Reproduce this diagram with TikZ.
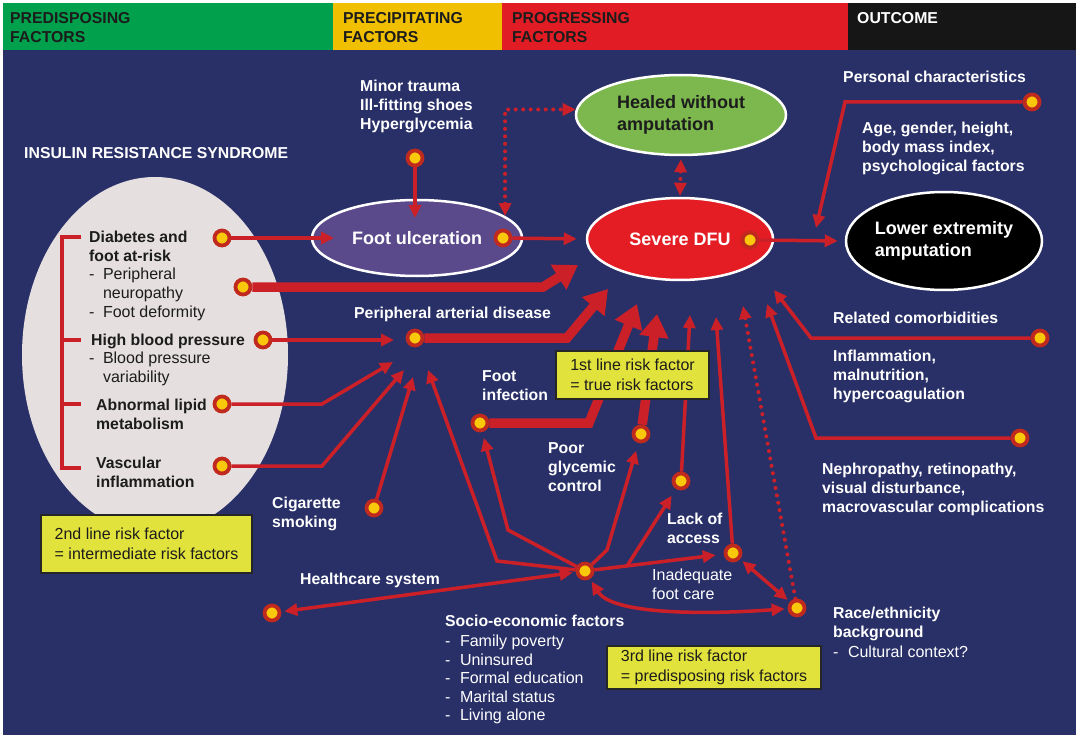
\documentclass[tikz,border=0pt]{standalone}
\usepackage{fontspec}
\setmainfont{Liberation Sans}
\usetikzlibrary{arrows.meta,shapes.geometric}

\definecolor{navy}{RGB}{41,48,104}
\definecolor{hdgreen}{RGB}{0,160,76}
\definecolor{hdyellow}{RGB}{240,192,0}
\definecolor{hdred}{RGB}{226,28,36}
\definecolor{hdblack}{RGB}{22,22,22}
\definecolor{linkred}{RGB}{204,32,40}
\definecolor{ringred}{RGB}{192,42,30}
\definecolor{dotyellow}{RGB}{250,200,10}
\definecolor{irsgrey}{RGB}{229,223,223}
\definecolor{ulcer}{RGB}{90,74,140}
\definecolor{healgreen}{RGB}{124,184,78}
\definecolor{sevred}{RGB}{228,28,36}
\definecolor{boxyellow}{RGB}{226,226,60}
\definecolor{inktext}{RGB}{28,28,28}

\begin{document}
\begin{tikzpicture}[x=1pt,y=-1pt,
  lbl/.style={inner sep=0pt, anchor=north west, align=left, text=white,
    font=\bfseries\fontsize{15.8}{19}\selectfont},
  plain/.style={lbl, font=\fontsize{16}{19}\selectfont},
  ink/.style={text=inktext},
  hdtext/.style={lbl, text=inktext},
  oval/.style={ellipse, draw=white, line width=2.5pt, inner sep=0pt, align=left,
    font=\bfseries\fontsize{18}{22.5}\selectfont},
  dot/.style={circle, fill=dotyellow, draw=ringred, line width=3.8pt,
    minimum size=15pt, inner sep=0pt},
  riskbox/.style={draw=black!85, line width=2pt, fill=boxyellow, text=inktext,
    align=left, inner sep=0pt, anchor=north west,
    font=\fontsize{16}{20}\selectfont},
  link/.style={draw=linkred, line width=3.5pt, -{Triangle[length=13pt,width=12pt]}},
  twoway/.style={link, {Triangle[length=13pt,width=12pt]}-{Triangle[length=13pt,width=12pt]}},
  bold link/.style={draw=linkred, line width=9.5pt, -{Triangle[length=23pt,width=28pt]}},
  dotted link/.style={draw=linkred, line width=4pt, line cap=round,
    dash pattern=on 0pt off 7.5pt, -{Triangle[length=13pt,width=12pt]}},
  dotted twoway/.style={dotted link, {Triangle[length=13pt,width=12pt]}-{Triangle[length=13pt,width=12pt]}},
]
\useasboundingbox (0,0) rectangle (1078,738);
\fill[white] (0,0) rectangle (1078,738);

% stage bands and canvas
\fill[navy] (3,50) rectangle (1076,735);
\fill[hdgreen] (3,3) rectangle (333,50);
\fill[hdyellow] (333,3) rectangle (502,50);
\fill[hdred] (502,3) rectangle (848,50);
\fill[hdblack] (848,3) rectangle (1076,50);
\node[hdtext] (hPre) at (10,12) {PREDISPOSING\\FACTORS};
\node[hdtext] (hPrec) at (343,12) {PRECIPITATING\\FACTORS};
\node[hdtext] (hProg) at (512,12) {PROGRESSING\\FACTORS};
\node[lbl] (hOut) at (857,12) {OUTCOME};

% insulin resistance syndrome group
\node[lbl] (irsTitle) at (24,147) {INSULIN RESISTANCE SYNDROME};
\node[ellipse, fill=irsgrey, minimum width=266, minimum height=356, inner sep=0pt] (irs) at (155,355) {};
\draw[linkred, line width=4pt] (81,237) -- (62,237) -- (62,468) -- (81,468);
\draw[linkred, line width=4pt] (62,340) -- (81,340) (62,404) -- (81,404);

\node[lbl, ink] (tDiab) at (89,231) {Diabetes and\\foot at-risk};
\node[plain, ink] (tDiabSub) at (89,268) {-\hspace{8.5pt}Peripheral\\\phantom{-}\hspace{8.5pt}neuropathy\\-\hspace{8.5pt}Foot deformity};
\node[lbl, ink] (tHBP) at (91,334) {High blood pressure};
\node[plain, ink] (tHBPSub) at (89,352) {-\hspace{8.5pt}Blood pressure\\\phantom{-}\hspace{8.5pt}variability};
\node[lbl, ink] (tLipid) at (96,399) {Abnormal lipid\\metabolism};
\node[lbl, ink] (tVasc) at (96,457) {Vascular\\inflammation};

% stages of the ulcer
\node[oval, fill=ulcer, text=white, minimum width=210, minimum height=76] (fu) at (417,238) {Foot ulceration};
\node[oval, fill=healgreen, text=inktext, minimum width=210, minimum height=80] (healed) at (681,115) {Healed without\\amputation};
\node[oval, fill=sevred, text=white, minimum width=186, minimum height=82] (sev) at (680,239) {Severe DFU};
\node[oval, fill=black, text=white, minimum width=196, minimum height=98] (lea) at (944,241) {Lower extremity\\amputation};

% labels
\node[lbl] (tTrauma) at (360,80) {Minor trauma\\Ill-fitting shoes\\Hyperglycemia};
\node[lbl] (tPers) at (843,71) {Personal characteristics};
\node[lbl] (tPersSub) at (862,122) {Age, gender, height,\\body mass index,\\psychological factors};
\node[lbl] (tPAD) at (354,307) {Peripheral arterial disease};
\node[lbl] (tCom) at (833,312) {Related comorbidities};
\node[lbl] (tComSub) at (833,350) {Inflammation,\\malnutrition,\\hypercoagulation};
\node[lbl] (tInf) at (482,370) {Foot\\infection};
\node[lbl] (tGly) at (548,442) {Poor\\glycemic\\control};
\node[lbl] (tNeph) at (822,463) {Nephropathy, retinopathy,\\visual disturbance,\\macrovascular complications};
\node[lbl] (tCig) at (272,497) {Cigarette\\smoking};
\node[lbl] (tLack) at (667,513) {Lack of\\access};
\node[lbl] (tHealth) at (300,573) {Healthcare system};
\node[plain] (tFoot) at (652,569) {Inadequate\\foot care};
\node[lbl] (tSocio) at (445,615) {Socio-economic factors};
\node[plain, font=\fontsize{16}{18.5}\selectfont] (tSocioSub) at (445,635)
  {-\hspace{9.5pt}Family poverty\\-\hspace{9.5pt}Uninsured\\-\hspace{9.5pt}Formal education\\-\hspace{9.5pt}Marital status\\-\hspace{9.5pt}Living alone};
\node[lbl] (tRace) at (833,607) {Race/ethnicity\\background};
\node[plain] (tRaceSub) at (833,646) {-\hspace{9.5pt}Cultural context?};

% factor dots
\node[dot] (dDiab) at (222,238) {};
\node[dot] (dNeuro) at (243,287) {};
\node[dot] (dHBP) at (263,340) {};
\node[dot] (dLipid) at (222,404) {};
\node[dot] (dVasc) at (222,466) {};
\node[dot] (dCig) at (374,508) {};
\node[dot] (dPAD) at (415,338) {};
\node[dot] (dTrauma) at (415,158) {};
\node[dot] (dFU) at (503,238) {};
\node[dot] (dSev) at (750,240) {};
\node[dot] (dPers) at (1032,102) {};
\node[dot] (dCom) at (1040,338) {};
\node[dot] (dNeph) at (1020,438) {};
\node[dot] (dInf) at (480,423) {};
\node[dot] (dGly) at (641,434) {};
\node[dot] (dLack) at (681,481) {};
\node[dot] (dFoot) at (733,553) {};
\node[dot] (dRace) at (797,608) {};
\node[dot] (dSocio) at (585,571) {};
\node[dot] (dHealth) at (272,613) {};

% bends and free arrow ends
\coordinate (tipFU) at (334,238);
\coordinate (kNeuro) at (543,287);
\coordinate (tipNeuro) at (578,265);
\coordinate (tipHBP) at (394,340);
\coordinate (kLipid) at (322,404);
\coordinate (tipLipid) at (393,362);
\coordinate (kVasc) at (322,466);
\coordinate (tipVasc) at (404,370);
\coordinate (tipCig) at (413,377);
\coordinate (kPAD) at (567,338);
\coordinate (tipPAD) at (608,289);
\coordinate (tipTrauma) at (415,218);
\coordinate (kPers) at (845,102);
\coordinate (tipPers) at (816,228);
\coordinate (kCom) at (811,338);
\coordinate (tipCom) at (774,290);
\coordinate (kNeph) at (816,438);
\coordinate (tipNeph) at (767,304);
\coordinate (kInf) at (589,423);
\coordinate (tipInf) at (637,304);
\coordinate (tipGly) at (657,314);
\coordinate (tipLack) at (690,315);
\coordinate (tipFoot) at (716,317);
\coordinate (tipRace) at (743,306);
\coordinate (kS1) at (497,561);
\coordinate (tipS1) at (428,370);
\coordinate (kS2) at (508,530);
\coordinate (kS3) at (607,550);
\coordinate (brLack) at (627,566);

% predisposing links
\draw[link] (dDiab) -- (tipFU);
\draw[bold link] (dNeuro) -- (kNeuro) -- (tipNeuro);
\draw[link] (dHBP) -- (tipHBP);
\draw[link] (dLipid) -- (kLipid) -- (tipLipid);
\draw[link] (dVasc) -- (kVasc) -- (tipVasc);
\draw[link] (dCig) -- (tipCig);
\draw[bold link] (dPAD) -- (kPAD) -- (tipPAD);

% precipitating and outcome links
\draw[link] (dTrauma) -- (tipTrauma);
\draw[link, shorten >=9pt] (dFU) -- (sev.west);
\draw[dotted twoway] (fu.14) |- (healed.177);
\draw[dotted twoway, shorten <=3pt, shorten >=1pt] (healed.south) -- (sev.north);
\draw[link, shorten >=7pt] (dSev) -- (lea.west);
\draw[link] (dPers) -- (kPers) -- (tipPers);
\draw[link] (dCom) -- (kCom) -- (tipCom);
\draw[link] (dNeph) -- (kNeph) -- (tipNeph);

% progressing links
\draw[bold link] (dInf) -- (kInf) -- (tipInf);
\draw[bold link] (dGly) -- (tipGly);
\draw[link] (dLack) -- (tipLack);
\draw[link] (dFoot) -- (tipFoot);
\draw[dotted link] (dRace) -- (tipRace);

% socio-economic links
\draw[link] (dSocio) -- (kS1) -- (tipS1);
\draw[link, shorten >=6pt] (dSocio) -- (kS2) -- (dInf);
\draw[link, shorten >=8pt] (dSocio) -- (kS3) -- (dGly);
\draw[link, shorten >=8pt] (dSocio) -- (dFoot);
\draw[link, shorten >=8pt] (brLack) -- (dLack);
\draw[twoway, shorten <=3pt, shorten >=3pt] (dHealth) -- (dSocio);
\draw[twoway, shorten <=3pt, shorten >=3pt] (dSocio) .. controls (612,614) and (700,615) .. (dRace);
\draw[twoway, shorten <=3pt, shorten >=3pt] (dFoot) -- (dRace);

% risk factor levels
\node[riskbox, minimum width=153, minimum height=48] (box1) at (555,350) {1st line risk factor\\= true risk factors};
\node[riskbox, minimum width=211, minimum height=58] (box2) at (40,514) {2nd line risk factor\\= intermediate risk factors};
\node[riskbox, minimum width=214, minimum height=43] (box3) at (606,645) {3rd line risk factor\\= predisposing risk factors};
\end{tikzpicture}
\end{document}
